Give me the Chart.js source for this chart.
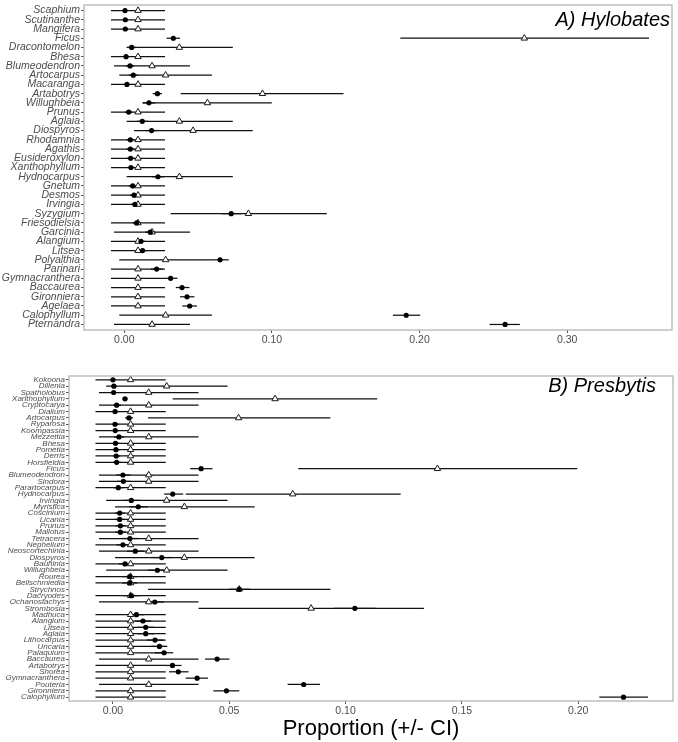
<!DOCTYPE html>
<html><head><meta charset="utf-8">
<script src="https://cdn.jsdelivr.net/npm/chart.js@4.4.1/dist/chart.umd.min.js"></script>
<style>
html,body{margin:0;padding:0;background:#fff;}
#wrap{position:relative;width:678px;height:742px;overflow:hidden;}
#ca{position:absolute;left:0;top:0;}
#cb{position:absolute;left:0;top:360px;}
</style></head><body>
<div id="wrap">
<canvas id="ca" width="678" height="360"></canvas>
<canvas id="cb" width="678" height="382"></canvas>
</div>
<script>
// ---------- Panel A: Hylobates ----------
const hyloGenera = ["Scaphium","Scutinanthe","Mangifera","Ficus","Dracontomelon","Bhesa","Blumeodendron","Artocarpus","Macaranga","Artabotrys","Willughbeia","Prunus","Aglaia","Diospyros","Rhodamnia","Agathis","Eusideroxylon","Xanthophyllum","Hydnocarpus","Gnetum","Desmos","Irvingia","Syzygium","Friesodielsia","Garcinia","Alangium","Litsea","Polyalthia","Parinari","Gymnacranthera","Baccaurea","Gironniera","Agelaea","Calophyllum","Pternandra"];
const hyloCircle   = [0.0005,0.0007,0.0007,0.0332,0.0050,0.0012,0.0039,0.0061,0.0018,0.0224,0.0167,0.0030,0.0122,0.0185,0.0041,0.0041,0.0043,0.0045,0.0228,0.0057,0.0066,0.0072,0.0724,0.0084,0.0176,0.0113,0.0124,0.0649,0.0219,0.0314,0.0391,0.0425,0.0443,0.1910,0.2580];
const hyloCircleLo = [0.0000,0.0000,0.0000,0.0287,0.0020,0.0000,0.0010,0.0030,0.0000,0.0192,0.0125,0.0005,0.0085,0.0145,0.0015,0.0015,0.0017,0.0019,0.0185,0.0030,0.0038,0.0044,0.0660,0.0055,0.0140,0.0083,0.0093,0.0594,0.0180,0.0276,0.0349,0.0378,0.0393,0.1820,0.2475];
const hyloCircleHi = [0.0015,0.0017,0.0017,0.0377,0.0080,0.0028,0.0068,0.0092,0.0036,0.0255,0.0210,0.0055,0.0160,0.0225,0.0068,0.0068,0.0070,0.0072,0.0270,0.0085,0.0094,0.0100,0.0790,0.0113,0.0212,0.0143,0.0155,0.0708,0.0260,0.0360,0.0441,0.0475,0.0492,0.2005,0.2680];
const hyloTri   = [0.0093,0.0093,0.0093,0.2710,0.0373,0.0093,0.0188,0.0280,0.0093,0.0936,0.0563,0.0093,0.0373,0.0466,0.0093,0.0093,0.0093,0.0093,0.0373,0.0093,0.0093,0.0093,0.0841,0.0093,0.0188,0.0093,0.0093,0.0280,0.0093,0.0093,0.0093,0.0093,0.0093,0.0280,0.0188];
const hyloTriLo = [-0.0090,-0.0090,-0.0090,0.1870,0.0016,-0.0090,-0.0070,-0.0034,-0.0090,0.0382,0.0124,-0.0090,0.0016,0.0066,-0.0090,-0.0090,-0.0090,-0.0090,0.0016,-0.0090,-0.0090,-0.0090,0.0314,-0.0090,-0.0070,-0.0090,-0.0090,-0.0034,-0.0090,-0.0090,-0.0090,-0.0090,-0.0090,-0.0034,-0.0070];
const hyloTriHi = [0.0276,0.0276,0.0276,0.3555,0.0735,0.0276,0.0445,0.0594,0.0276,0.1485,0.0999,0.0276,0.0735,0.0870,0.0276,0.0276,0.0276,0.0276,0.0735,0.0276,0.0276,0.0276,0.1372,0.0276,0.0445,0.0276,0.0276,0.0594,0.0276,0.0276,0.0276,0.0276,0.0276,0.0594,0.0445];
const hyloTicks = [0, 0.1, 0.2, 0.3];

// ---------- Panel B: Presbytis ----------
const presGenera = ["Kokoona","Dillenia","Spatholobus","Xanthophyllum","Cryptocarya","Dialium","Artocarpus","Ryparosa","Koompassia","Mezzettia","Bhesa","Pometia","Derris","Horsfieldia","Ficus","Blumeodendron","Sindora","Parartocarpus","Hydnocarpus","Irvingia","Myristica","Coscinium","Licania","Prunus","Mallotus","Tetracera","Nephelium","Neoscortechinia","Diospyros","Bauhinia","Willughbeia","Rourea","Beilschmiedia","Strychnos","Dacryodes","Ochanostachys","Strombosia","Madhuca","Alangium","Litsea","Aglaia","Lithocarpus","Uncaria","Palaquium","Baccaurea","Artabotrys","Shorea","Gymnacranthera","Pouteria","Gironniera","Calophyllum"];
const presCircle   = [0.0000,0.0004,0.0003,0.0052,0.0016,0.0009,0.0069,0.0009,0.0010,0.0026,0.0011,0.0013,0.0014,0.0016,0.0379,0.0043,0.0045,0.0023,0.0257,0.0079,0.0109,0.0029,0.0029,0.0032,0.0032,0.0073,0.0043,0.0096,0.0210,0.0052,0.0191,0.0072,0.0072,0.0543,0.0079,0.0180,0.1040,0.0101,0.0129,0.0141,0.0141,0.0181,0.0200,0.0220,0.0448,0.0256,0.0281,0.0362,0.0820,0.0488,0.2195];
const presCircleLo = [0.0000,0.0000,0.0000,0.0040,0.0000,0.0000,0.0052,0.0000,0.0000,0.0005,0.0000,0.0000,0.0000,0.0000,0.0332,0.0015,0.0017,0.0002,0.0220,0.0045,0.0070,0.0008,0.0008,0.0010,0.0010,0.0040,0.0015,0.0060,0.0165,0.0025,0.0150,0.0040,0.0040,0.0500,0.0045,0.0140,0.0950,0.0070,0.0095,0.0105,0.0105,0.0145,0.0165,0.0180,0.0396,0.0225,0.0241,0.0313,0.0751,0.0432,0.2091];
const presCircleHi = [0.0000,0.0015,0.0014,0.0063,0.0035,0.0025,0.0086,0.0025,0.0026,0.0050,0.0028,0.0030,0.0032,0.0034,0.0428,0.0075,0.0077,0.0045,0.0302,0.0115,0.0150,0.0052,0.0052,0.0056,0.0056,0.0108,0.0075,0.0135,0.0255,0.0080,0.0232,0.0105,0.0105,0.0590,0.0115,0.0220,0.1130,0.0135,0.0165,0.0178,0.0178,0.0218,0.0234,0.0259,0.0501,0.0295,0.0325,0.0409,0.0890,0.0543,0.2300];
const presTri   = [0.0076,0.0231,0.0154,0.0697,0.0154,0.0076,0.0540,0.0076,0.0076,0.0154,0.0076,0.0076,0.0076,0.0076,0.1395,0.0154,0.0154,0.0076,0.0773,0.0231,0.0307,0.0076,0.0076,0.0076,0.0076,0.0154,0.0076,0.0154,0.0307,0.0076,0.0231,0.0076,0.0076,0.0543,0.0076,0.0154,0.0852,0.0076,0.0076,0.0076,0.0076,0.0076,0.0076,0.0076,0.0154,0.0076,0.0076,0.0076,0.0154,0.0076,0.0076];
const presTriLo = [-0.0075,-0.0029,-0.0060,0.0257,-0.0060,-0.0075,0.0151,-0.0075,-0.0075,-0.0060,-0.0075,-0.0075,-0.0075,-0.0075,0.0797,-0.0060,-0.0060,-0.0075,0.0313,-0.0029,0.0009,-0.0075,-0.0075,-0.0075,-0.0075,-0.0060,-0.0075,-0.0060,0.0009,-0.0075,-0.0029,-0.0075,-0.0075,0.0151,-0.0075,-0.0060,0.0368,-0.0075,-0.0075,-0.0075,-0.0075,-0.0075,-0.0075,-0.0075,-0.0060,-0.0075,-0.0075,-0.0075,-0.0060,-0.0075,-0.0075];
const presTriHi = [0.0227,0.0493,0.0368,0.1136,0.0368,0.0227,0.0935,0.0227,0.0227,0.0368,0.0227,0.0227,0.0227,0.0227,0.1996,0.0368,0.0368,0.0227,0.1237,0.0493,0.0609,0.0227,0.0227,0.0227,0.0227,0.0368,0.0227,0.0368,0.0609,0.0227,0.0493,0.0227,0.0227,0.0935,0.0227,0.0368,0.1337,0.0227,0.0227,0.0227,0.0227,0.0227,0.0227,0.0227,0.0368,0.0227,0.0227,0.0227,0.0368,0.0227,0.0227];
const presTicks = [0, 0.05, 0.1, 0.15, 0.2];

Chart.defaults.font.family = "'Liberation Sans', Arial, Helvetica, sans-serif";

const framePlugin = {
  id: 'frame',
  afterDatasetsDraw(chart, args, opts) {
    const {ctx, chartArea: a} = chart;
    ctx.save();
    ctx.strokeStyle = '#B5B5B5';
    ctx.lineWidth = 1.3;
    ctx.strokeRect(a.left, a.top, a.right - a.left, a.bottom - a.top);
    ctx.font = "italic 20px 'Liberation Sans', Arial, sans-serif";
    ctx.fillStyle = '#000';
    ctx.textAlign = 'right';
    ctx.textBaseline = 'middle';
    ctx.fillText(opts.label, a.right - opts.dx, a.top + opts.dy);
    ctx.restore();
  }
};

function makePanel(canvasId, genera, circ, cLo, cHi, tri, tLo, tHi, xTicks, cfg) {
  const idx = genera.map((_, i) => i);
  new Chart(document.getElementById(canvasId), {
    type: 'bar',
    data: {
      datasets: [
        { type: 'scatter', indexAxis: 'x', data: idx.map(i => ({x: circ[i], y: i})),
          pointStyle: 'circle', pointRadius: 2.6, backgroundColor: '#000', borderWidth: 0, order: 0 },
        { type: 'scatter', indexAxis: 'x', data: idx.map(i => ({x: tri[i], y: i})),
          pointStyle: 'triangle', pointRadius: 3.7, backgroundColor: '#fff', borderColor: '#1a1a1a', borderWidth: 1, order: 1 },
        { type: 'bar', data: idx.map(i => ({x: [cLo[i], cHi[i]], y: i})),
          backgroundColor: '#111', borderWidth: 0, maxBarThickness: 1.25, grouped: false, order: 2 },
        { type: 'bar', data: idx.map(i => ({x: [tLo[i], tHi[i]], y: i})),
          backgroundColor: '#111', borderWidth: 0, maxBarThickness: 1.25, grouped: false, order: 3 }
      ]
    },
    plugins: [framePlugin],
    options: {
      responsive: false, animation: false, indexAxis: 'y',
      layout: { padding: { left: 0, right: cfg.padRight, top: cfg.padTop, bottom: 0 } },
      plugins: { legend: { display: false }, tooltip: { enabled: false },
                 frame: { label: cfg.label, dx: cfg.dx, dy: cfg.dy } },
      scales: {
        x: {
          type: 'linear', position: 'bottom', min: cfg.xMin, max: cfg.xMax, bounds: 'data', offset: false,
          afterBuildTicks: ax => { ax.ticks = xTicks.map(v => ({value: v})); },
          afterFit: ax => { ax.height = cfg.xHeight; ax.paddingLeft = 0; ax.paddingRight = 0; },
          ticks: { callback: v => Number(v).toFixed(2), font: { size: 10.5 }, color: '#4D4D4D', padding: 1, maxRotation: 0, autoSkip: false },
          grid: { drawOnChartArea: false, drawTicks: true, tickLength: 3, color: '#555' },
          border: { display: false },
          title: cfg.xTitle ? { display: true, text: cfg.xTitle, font: { size: 22 }, color: '#000', padding: 0 } : { display: false }
        },
        y: {
          type: 'linear', reverse: true, min: -0.6, max: genera.length - 0.4, bounds: 'data', offset: false,
          afterBuildTicks: ax => { ax.ticks = idx.map(i => ({value: i})); },
          afterFit: ax => { ax.width = cfg.yWidth; ax.paddingTop = 0; ax.paddingBottom = 0; },
          ticks: { callback: v => genera[v], font: { size: cfg.yFont, style: 'italic' }, color: '#4D4D4D', padding: 1, autoSkip: false },
          grid: { drawOnChartArea: false, drawTicks: true, tickLength: 3, color: '#555', offset: false },
          border: { display: false }
        }
      }
    }
  });
}

makePanel('ca', hyloGenera, hyloCircle, hyloCircleLo, hyloCircleHi, hyloTri, hyloTriLo, hyloTriHi, hyloTicks,
  { label: 'A) Hylobates', dx: 2, dy: 15.3, padTop: 3, padRight: 6, yWidth: 84, xHeight: 30, yFont: 10.5,
    xMin: (84 - 124.3) / 1476, xMax: (672 - 124.3) / 1476 });

makePanel('cb', presGenera, presCircle, presCircleLo, presCircleHi, presTri, presTriLo, presTriHi, presTicks,
  { label: 'B) Presbytis', dx: 17, dy: 10.7, padTop: 16, padRight: 4, yWidth: 69, xHeight: 41, yFont: 8,
    xMin: (69 - 113) / 2330, xMax: (674 - 113) / 2330, xTitle: 'Proportion (+/- CI)' });
</script>
</body></html>
